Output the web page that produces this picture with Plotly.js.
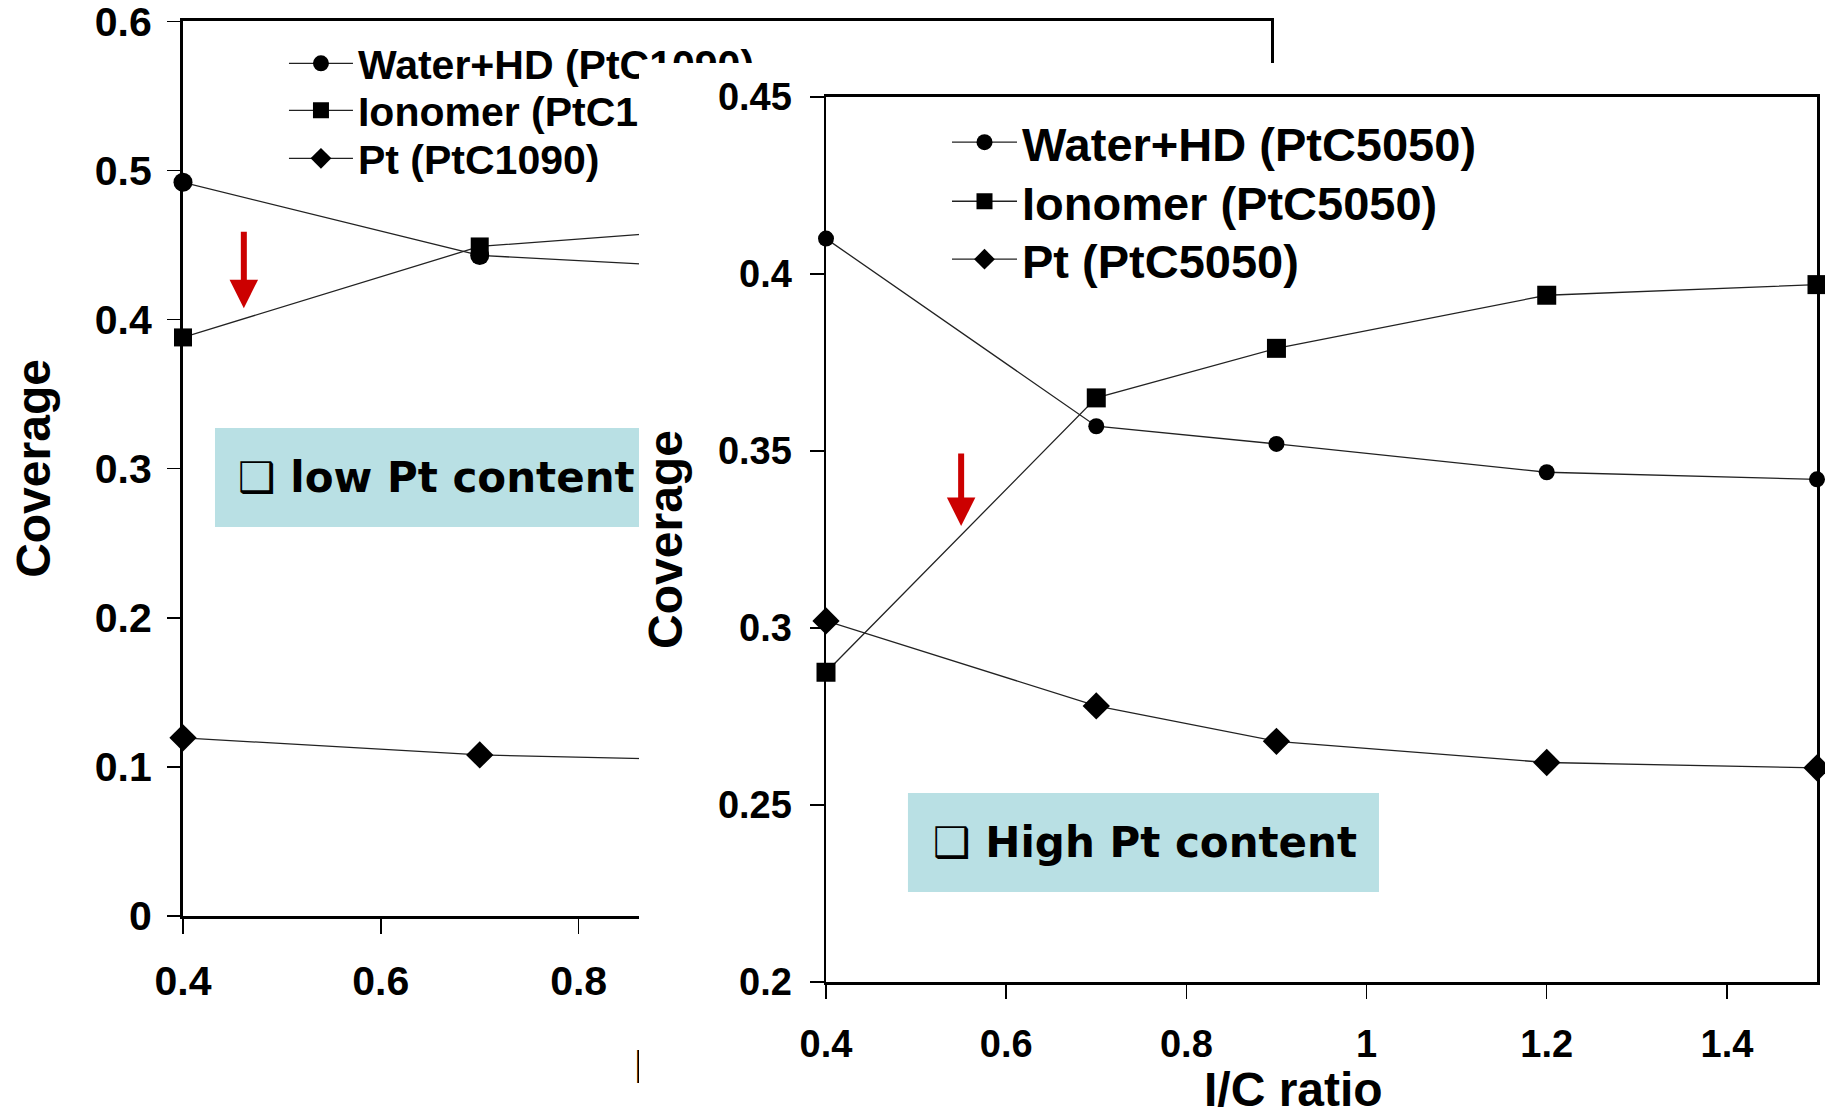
<!DOCTYPE html>
<html><head><meta charset="utf-8">
<script src="https://cdn.plot.ly/plotly-3.0.1.min.js"></script>
<style>
html,body{margin:0;padding:0;background:#fff;overflow:hidden;}
#left{position:absolute;left:0;top:0;width:1825px;height:1112px;}
#right{position:absolute;left:639px;top:63px;width:1186px;height:1049px;}
</style></head><body>
<div id="left"></div><div id="right"></div>
<script>
// ---- low Pt content (PtC1090), partly hidden behind the second chart ----
const xLow = [0.4, 0.7, 0.9];
const waterLow = [0.492, 0.443, 0.436];
const ionomerLow = [0.388, 0.449, 0.459];
const ptLow = [0.1195, 0.108, 0.105];
const namesLow = ['Water+HD (PtC1090)', 'Ionomer (PtC1090)', 'Pt (PtC1090)'];

// ---- high Pt content (PtC5050) ----
const xHigh = [0.4, 0.7, 0.9, 1.2, 1.5];
const waterHigh = [0.410, 0.357, 0.352, 0.344, 0.342];
const ionomerHigh = [0.2875, 0.365, 0.379, 0.394, 0.397];
const ptHigh = [0.302, 0.278, 0.268, 0.262, 0.2605];
const namesHigh = ['Water+HD (PtC5050)', 'Ionomer (PtC5050)', 'Pt (PtC5050)'];

// ---- ticks and labels ----
const xTickVals = [0.4, 0.6, 0.8, 1, 1.2, 1.4];
const xTickText = ['0.4', '0.6', '0.8', '1', '1.2', '1.4'];
const yTickValsLow = [0, 0.1, 0.2, 0.3, 0.4, 0.5, 0.6];
const yTickTextLow = ['0', '0.1', '0.2', '0.3', '0.4', '0.5', '0.6'];
const yTickValsHigh = [0.2, 0.25, 0.3, 0.35, 0.4, 0.45];
const yTickTextHigh = ['0.2', '0.25', '0.3', '0.35', '0.4', '0.45'];
const xTitle = 'I/C ratio';
const yTitle = 'Coverage';
const boxLow = '\u2751 low Pt content';
const boxHigh = '\u2751 High Pt content';

const AR = 'Liberation Sans, Arial, sans-serif';
const TH = 'DejaVu Sans, Verdana, sans-serif';
const symbols = ['circle', 'square', 'diamond'];
const legendIds = ['legend', 'legend2', 'legend3'];

function series(x, ys, names, sizes) {
  return ys.map((y, i) => ({
    type: 'scatter', mode: 'lines+markers', x: x, y: y, name: names[i],
    legend: legendIds[i], cliponaxis: false,
    line: {color: '#222', width: 1.3},
    marker: {symbol: symbols[i], size: sizes[i], color: '#000'}
  }));
}

function legendAt(x, y, size, w) {
  return {x: x, y: y, xanchor: 'left', yanchor: 'middle', bgcolor: 'rgba(0,0,0,0)',
    borderwidth: 0, font: {family: AR, size: size, weight: 'bold', color: '#000'}, itemwidth: w};
}

function axis(o) {
  return Object.assign({
    showgrid: false, zeroline: false, showline: true, mirror: true,
    linecolor: '#000', ticks: 'outside', tickcolor: '#000', tickwidth: 1.5,
    ticklabeloverflow: 'allow', fixedrange: true
  }, o);
}

const tickFontL = {family: AR, size: 41, weight: 'bold', color: '#000'};
const tickFontR = {family: AR, size: 38, weight: 'bold', color: '#000'};
const titleFont = {family: AR, size: 48, weight: 'bold', color: '#000'};
const boxFont = {family: TH, size: 42, weight: 'bold', color: '#000'};

// ---------- left chart ----------
const leftTraces = series(xLow, [waterLow, ionomerLow, ptLow], namesLow, [19, 18, 21]);
const leftLayout = {
  width: 1825, height: 1112,
  margin: {l: 183, r: 554, t: 21, b: 196, autoexpand: false},
  paper_bgcolor: '#fff', plot_bgcolor: '#fff',
  showlegend: true,
  legend: legendAt(0.0928, 0.9523, 41, 64),
  legend2: legendAt(0.0928, 0.8998, 41, 64),
  legend3: legendAt(0.0928, 0.8462, 41, 64),
  xaxis: axis({range: [0.4, 1.5], linewidth: 3, ticklen: 15, tickvals: xTickVals, ticktext: xTickText,
    tickfont: tickFontL, ticklabelstandoff: 12}),
  yaxis: axis({range: [0, 0.6002], linewidth: 3, ticklen: 13, tickvals: yTickValsLow, ticktext: yTickTextLow,
    tickfont: tickFontL, ticklabelstandoff: 7,
    title: {text: yTitle, font: titleFont, standoff: 29}}),
  shapes: [{type: 'rect', xref: 'paper', yref: 'paper', x0: 0.0294, x1: 0.4623, y0: 0.4346, y1: 0.5453,
    fillcolor: '#B9E0E4', line: {width: 0}, layer: 'below'}],
  annotations: [
    {xref: 'paper', yref: 'paper', x: 0.0487, y: 0.49, xanchor: 'left', yanchor: 'middle', showarrow: false,
      text: boxLow, font: boxFont},
    {xref: 'paper', yref: 'paper', x: 0.4127, y: -0.1676, xanchor: 'left', yanchor: 'middle', showarrow: false,
      text: xTitle, font: titleFont},
    {xref: 'x', yref: 'y', x: 0.4615, y: 0.4076, ax: 0, ay: -78, text: '', showarrow: true,
      arrowcolor: '#CC0000', arrowwidth: 6, arrowhead: 2, arrowsize: 0.95, standoff: 0}
  ]
};

// ---------- right chart ----------
const rightTraces = series(xHigh, [waterHigh, ionomerHigh, ptHigh], namesHigh, [16, 19, 21]);
const rightLayout = {
  width: 1186, height: 1049,
  margin: {l: 187, r: 8, t: 34, b: 130, autoexpand: false},
  paper_bgcolor: '#fff', plot_bgcolor: '#fff',
  showlegend: true,
  legend: legendAt(0.1221, 0.9484, 47, 65),
  legend2: legendAt(0.1221, 0.8817, 47, 65),
  legend3: legendAt(0.1221, 0.8162, 47, 65),
  xaxis: axis({range: [0.4, 1.5], linewidth: 3, ticklen: 14, tickvals: xTickVals, ticktext: xTickText,
    tickfont: tickFontR, ticklabelstandoff: 12}),
  yaxis: axis({range: [0.2, 0.45], linewidth: 2.5, ticklen: 14, tickvals: yTickValsHigh, ticktext: yTickTextHigh,
    tickfont: tickFontR, ticklabelstandoff: 10,
    title: {text: yTitle, font: titleFont, standoff: 28}}),
  shapes: [{type: 'rect', xref: 'paper', yref: 'paper', x0: 0.0827, x1: 0.558, y0: 0.1017, y1: 0.2136,
    fillcolor: '#B9E0E4', line: {width: 0}, layer: 'below'}],
  annotations: [
    {xref: 'paper', yref: 'paper', x: 0.106, y: 0.1576, xanchor: 'left', yanchor: 'middle', showarrow: false,
      text: boxHigh, font: boxFont},
    {xref: 'paper', yref: 'paper', x: 0.4722, y: -0.1215, xanchor: 'center', yanchor: 'middle', showarrow: false,
      text: xTitle, font: titleFont},
    {xref: 'x', yref: 'y', x: 0.55, y: 0.3288, ax: 0, ay: -74, text: '', showarrow: true,
      arrowcolor: '#CC0000', arrowwidth: 6, arrowhead: 2, arrowsize: 0.95, standoff: 0}
  ]
};

const cfg = {staticPlot: true, displayModeBar: false};
Plotly.newPlot('left', leftTraces, leftLayout, cfg);
Plotly.newPlot('right', rightTraces, rightLayout, cfg);
</script>
</body></html>
